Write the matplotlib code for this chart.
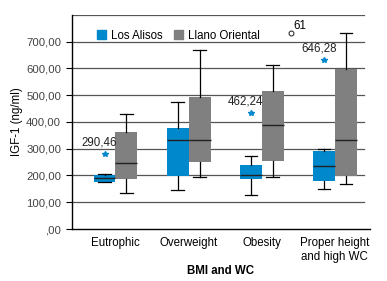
import matplotlib.pyplot as plt

categories = ['Eutrophic', 'Overweight', 'Obesity', 'Proper height\nand high WC']

# box statistics: whislo, q1, med, q3, whishi
alisos_stats = [
    [174, 177, 189, 203, 205],
    [144, 197, 331, 378, 473],
    [126, 188, 201, 240, 271],
    [148, 180, 235, 291, 300],
]
llano_stats = [
    [133, 188, 245, 362, 428],
    [193, 251, 331, 492, 667],
    [193, 255, 387, 516, 611],
    [170, 198, 331, 596, 734],
]

# extreme values (blue stars) and the one outlier circle
star_x = [0, 2, 3]
star_y = [280, 433, 631]
star_labels = ['290,46', '462,24', '646,28']
circle_x = 2.4
circle_y = 732
circle_label = '61'

blue = '#0088cc'
gray = '#808080'

plt.rcParams['font.family'] = 'Liberation Sans'

fig = plt.figure(figsize=(3.87, 2.81), dpi=100)
ax = fig.add_axes([0.185, 0.185, 0.771, 0.762])

for i in range(4):
    for stats, off, col in [(alisos_stats[i], -0.15, blue), (llano_stats[i], 0.15, gray)]:
        b = {'whislo': stats[0], 'q1': stats[1], 'med': stats[2],
             'q3': stats[3], 'whishi': stats[4], 'fliers': []}
        ax.bxp([b], positions=[i + off], widths=0.3, patch_artist=True,
               showfliers=False,
               boxprops=dict(facecolor=col, edgecolor=col, linewidth=0),
               medianprops=dict(color='#222222', linewidth=1),
               whiskerprops=dict(color='black', linewidth=0.9),
               capprops=dict(color='black', linewidth=0.9),
               capwidths=0.17)

for x, y, lab in zip(star_x, star_y, star_labels):
    ax.plot(x - 0.15, y, marker='*', color=blue, markersize=4, linestyle='none')
    ax.text(x - 0.22, y + 20, lab, fontsize=8.3, ha='center', va='bottom', color='#222222')

ax.plot(circle_x, circle_y, marker='o', markerfacecolor='white', markeredgecolor='#333333',
        markersize=3.5, markeredgewidth=0.8, linestyle='none')
ax.text(circle_x + 0.03, circle_y + 5, circle_label, fontsize=8.3, ha='left', va='bottom')

for v in range(100, 900, 100):
    ax.axhline(v, xmin=0, xmax=0.98, color='#555555', linewidth=0.9, zorder=0)

ax.set_ylim(0, 800)
ax.set_xlim(-0.6, 3.48)
ax.set_yticks(range(0, 800, 100))
ax.set_yticklabels([',00'] + ['%d,00' % v for v in range(100, 800, 100)])
ax.set_xticks(range(4))
ax.set_xticklabels(categories, linespacing=1.2)
ax.tick_params(axis='x', length=0, labelsize=8.3, pad=6)
ax.tick_params(axis='y', length=4, labelsize=8.2, colors='black', labelcolor='#444444')

for s in ['top', 'right']:
    ax.spines[s].set_visible(False)
ax.spines['left'].set_linewidth(1)
ax.spines['bottom'].set_linewidth(1)

ax.set_ylabel('IGF-1 (ng/ml)', fontsize=8.3, labelpad=2)
ax.set_xlabel('BMI and WC', fontsize=8.3, fontweight='bold', labelpad=1)

h1 = plt.Rectangle((0, 0), 1, 1, color=blue)
h2 = plt.Rectangle((0, 0), 1, 1, color=gray)
ax.legend([h1, h2], ['Los Alisos', 'Llano Oriental'], loc='upper left',
          bbox_to_anchor=(0.05, 0.98), ncol=2, frameon=False, fontsize=8.3,
          handlelength=0.8, handleheight=0.8, columnspacing=1.0, handletextpad=0.4)

fig.savefig('out.png', dpi=100)
